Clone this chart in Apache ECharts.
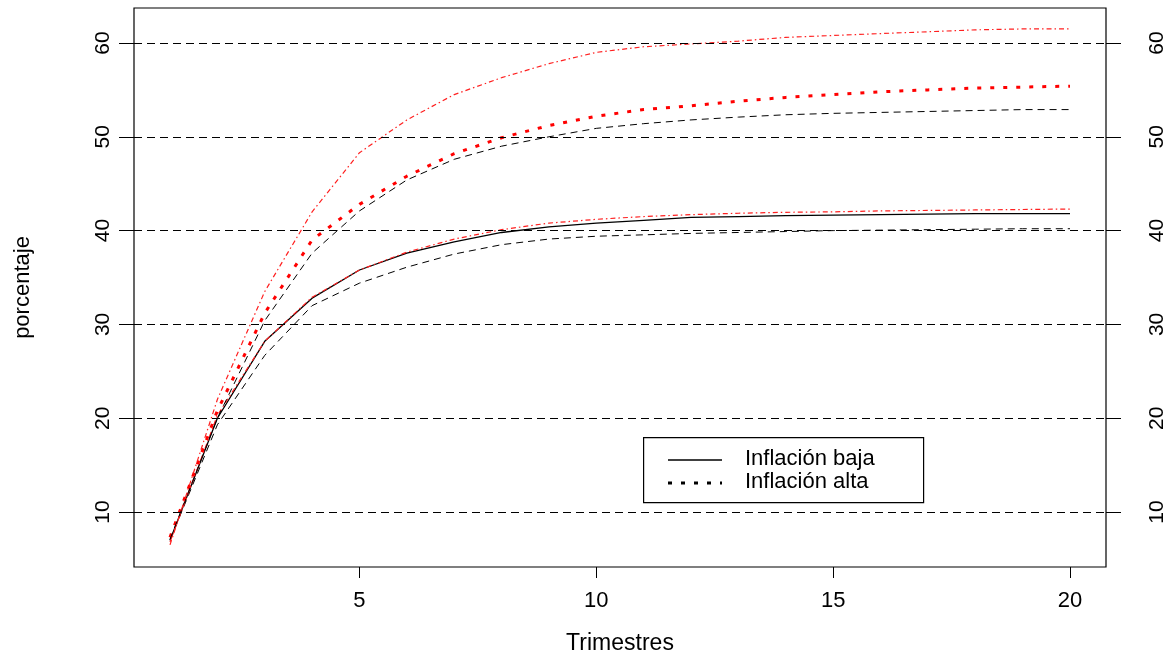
<!DOCTYPE html>
<html>
<head>
<meta charset="utf-8">
<script src="https://cdn.jsdelivr.net/npm/echarts@6/dist/echarts.min.js"></script>
<style>
html,body{margin:0;padding:0;background:#fff;}
#chart{width:1174px;height:658px;}
</style>
</head>
<body>
<div id="chart"></div>
<script>
// Quarters
const trimestres = [1,2,3,4,5,6,7,8,9,10,11,12,13,14,15,16,17,18,19,20];
// Low inflation: central (black solid), lower band (black dashed), upper band (red dash-dot)
const bajaCentral = [7.0,20.0,28.2,32.8,35.8,37.6,38.8,39.8,40.4,40.8,41.1,41.4,41.5,41.6,41.65,41.7,41.75,41.8,41.8,41.8];
const bajaInferior = [7.0,19.3,26.7,32.0,34.4,36.1,37.5,38.5,39.1,39.4,39.55,39.7,39.8,39.9,40.0,40.05,40.1,40.15,40.2,40.2];
const bajaSuperior = [6.8,20.3,28.2,32.9,35.8,37.7,39.1,40.1,40.8,41.2,41.5,41.7,41.85,41.95,42.0,42.1,42.15,42.2,42.25,42.3];
// High inflation: central (red dotted), lower band (black dashed), upper band (red dash-dot)
const altaCentral = [7.3,20.8,31.2,39.0,42.8,45.8,48.2,49.9,51.2,52.2,52.9,53.3,53.8,54.2,54.5,54.8,55.0,55.2,55.3,55.4];
const altaInferior = [7.1,20.0,30.4,37.6,42.1,45.4,47.6,49.0,50.0,50.9,51.4,51.8,52.1,52.35,52.5,52.6,52.7,52.8,52.9,52.9];
const altaSuperior = [6.5,22.0,33.5,42.0,48.3,51.8,54.5,56.3,57.8,59.0,59.6,59.9,60.2,60.6,60.8,61.0,61.2,61.4,61.5,61.5];
// Axis ticks
const xTicks = [5,10,15,20];
const yTicks = [10,20,30,40,50,60];
const legendLabels = ['Inflación baja','Inflación alta'];

const pair = ys => trimestres.map((x,i)=>[x, ys[i]]);
const FONT = '"Liberation Sans", Arial, sans-serif';
const NARROW = '"Liberation Sans Narrow", "Arial Narrow", "Liberation Sans", sans-serif';

const chart = echarts.init(document.getElementById('chart'), null, {renderer:'canvas'});

function yAxisDef(pos){
  return {
    type:'value', position:pos, min:4.14, max:63.73,
    axisLine:{show:false},
    splitLine:{show:false},
    axisTick:{show:true, customValues:yTicks, length:15, lineStyle:{color:'#000', width:1}},
    axisLabel:{show:true, customValues:yTicks, rotate:90, margin: pos==='left'?20:41,
      align:'center', verticalAlign: pos==='left'?'bottom':'top',
      fontFamily:NARROW, fontSize:21, color:'#000'},
  };
}

const option = {
  animation:false,
  backgroundColor:'#fff',
  grid:{left:134, right:68, top:8, bottom:91, show:true, borderColor:'#000', borderWidth:1.2,
        backgroundColor:'transparent', containLabel:false, outerBoundsMode:'none'},
  xAxis:{
    type:'value', min:0.24, max:20.76,
    axisLine:{show:false},
    splitLine:{show:false},
    axisTick:{show:true, customValues:xTicks, length:11, lineStyle:{color:'#000', width:1}},
    axisLabel:{show:true, customValues:xTicks, margin:23, fontFamily:FONT, fontSize:22, color:'#000'},
    name:'Trimestres', nameLocation:'middle', nameGap:65,
    nameTextStyle:{fontFamily:FONT, fontSize:23, color:'#000'}
  },
  yAxis:[
    Object.assign(yAxisDef('left'), {name:'porcentaje', nameLocation:'middle', nameGap:100, nameRotate:90,
      nameTextStyle:{fontFamily:NARROW, fontSize:22, color:'#000'}}),
    Object.assign(yAxisDef('right'), {})
  ],
  series:[
    {type:'line', name:'Inflación baja', data:pair(bajaCentral), showSymbol:false, symbol:'none',
     lineStyle:{color:'#000', width:1.3, type:'solid'},
     markLine:{silent:true, symbol:'none', label:{show:false},
       lineStyle:{color:'#000', width:1, type:[8,5]},
       data: yTicks.map(v=>({yAxis:v}))}},
    {type:'line', name:'baja inferior', data:pair(bajaInferior), showSymbol:false, symbol:'none',
     lineStyle:{color:'#000', width:1, type:[7,5]}},
    {type:'line', name:'baja superior', data:pair(bajaSuperior), showSymbol:false, symbol:'none',
     lineStyle:{color:'#ff2020', width:1.2, type:[5,3,1.5,3]}},
    {type:'line', name:'Inflación alta', data:pair(altaCentral), showSymbol:false, symbol:'none',
     lineStyle:{color:'#ff0000', width:3, type:[4,9]}},
    {type:'line', name:'alta inferior', data:pair(altaInferior), showSymbol:false, symbol:'none',
     lineStyle:{color:'#000', width:1, type:[7,5]}},
    {type:'line', name:'alta superior', data:pair(altaSuperior), showSymbol:false, symbol:'none',
     lineStyle:{color:'#ff2020', width:1.2, type:[5,3,1.5,3]}}
  ],
  graphic:[
    {type:'rect', left:643, top:437, shape:{width:280, height:65}, style:{fill:'#fff', stroke:'#000', lineWidth:1.2}, z:100},
    {type:'line', shape:{x1:668, y1:460, x2:722, y2:460}, style:{stroke:'#000', lineWidth:1.3}, z:101},
    {type:'line', shape:{x1:668, y1:483, x2:722, y2:483}, style:{stroke:'#000', lineWidth:3, lineDash:[4,9]}, z:101},
    {type:'text', left:745, top:448, style:{text:legendLabels[0], font:'22px '+FONT, fill:'#000'}, z:101},
    {type:'text', left:745, top:471, style:{text:legendLabels[1], font:'22px '+FONT, fill:'#000'}, z:101}
  ]
};
chart.setOption(option);
</script>
</body>
</html>
